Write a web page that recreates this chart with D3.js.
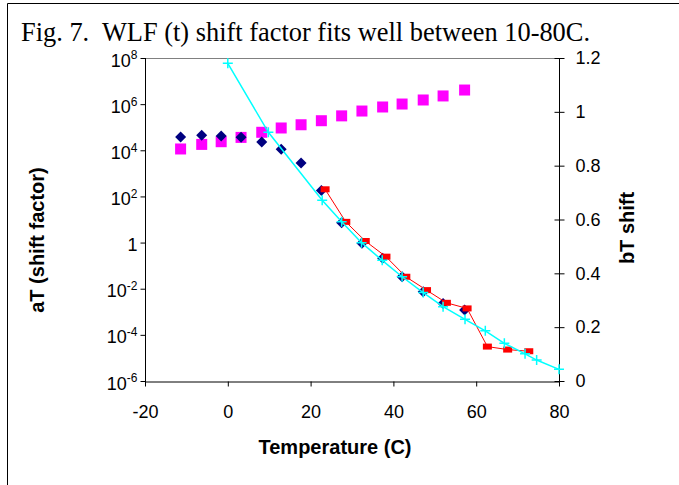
<!DOCTYPE html>
<html>
<head>
<meta charset="utf-8">
<script src="https://cdn.jsdelivr.net/npm/d3@7"></script>
<style>
  body { margin: 0; background: #fff; }
  svg { display: block; }
  text { font-family: "Liberation Sans", Arial, sans-serif; }
</style>
</head>
<body>
<svg id="chart" width="679" height="485"></svg>
<script>
// temperatures (C) shared by the aT data (diamonds) and bT shift (squares)
const dataTemps = [-11.4, -6.3, -1.6, 3.2, 8.2, 12.9, 17.7, 22.6, 27.5, 32.4, 37.4, 42.1, 47.2, 52.0, 57.2];
const aTData = [3.8e4, 4.5e4, 4.2e4, 3.7e4, 2.3e4, 1.1e4, 2.8e3, 180, 7.2, 0.93, 0.21, 0.033, 0.0074, 0.0023, 0.0012];
const bTShift = [0.862, 0.879, 0.889, 0.905, 0.924, 0.940, 0.952, 0.967, 0.985, 1.003, 1.018, 1.029, 1.044, 1.059, 1.081];

// shifted aT (red)
const redTemps = [23.5, 28.5, 33.2, 38.2, 43.0, 48.0, 52.8, 57.8, 62.7, 67.6, 72.7];
const redValues = [204, 7.9, 1.17, 0.245, 0.033, 0.0087, 0.00245, 0.0014, 3.1e-5, 2.3e-5, 1.95e-5];

// WLF fit (cyan)
const wlfTemps = [0, 9.8, 22.8, 27.5, 32.3, 37.3, 42.1, 47.2, 52.0, 57.3, 62.2, 66.8, 71.8, 74.6, 80];
const wlfValues = [5.9e7, 6.0e4, 69, 7.9, 0.99, 0.17, 0.033, 0.0068, 0.00166, 4.7e-4, 1.5e-4, 4.3e-5, 1.5e-5, 8.1e-6, 3.2e-6];

const xTicks = [-20, 0, 20, 40, 60, 80];
const leftTickExps = [-6, -4, -2, 0, 2, 4, 6, 8];
const rightTicks = [0, 0.2, 0.4, 0.6, 0.8, 1, 1.2];

const titleText = 'Fig. 7.  WLF (t) shift factor fits well between 10-80C.';

const svg = d3.select('#chart');
const m = { left: 145, right: 559, top: 58, bottom: 381 };

const x = d3.scaleLinear().domain([-20, 80]).range([m.left, m.right]);
const yL = d3.scaleLog().domain([1e-6, 1e8]).range([m.bottom, m.top]);
const yR = d3.scaleLinear().domain([0, 1.2]).range([m.bottom, m.top]);

// outer frame (left and top edges visible)
svg.append('path')
  .attr('d', `M7.5,485 V3.5 H679`)
  .attr('fill', 'none').attr('stroke', '#000').attr('stroke-width', 1);

svg.append('text')
  .attr('x', 21).attr('y', 41)
  .style('font-family', '"Liberation Serif", "Times New Roman", serif')
  .style('font-size', '26.4px')
  .attr('xml:space', 'preserve')
  .text(titleText);

// plot area top border
svg.append('line')
  .attr('x1', m.left).attr('x2', m.right).attr('y1', m.top + 0.5).attr('y2', m.top + 0.5)
  .attr('stroke', '#808080');

// bottom axis
const gx = svg.append('g')
  .attr('transform', `translate(0,${m.bottom + 0.5})`)
  .call(d3.axisBottom(x).tickValues(xTicks).tickSize(5).tickFormat(d => String(d)));
gx.selectAll('.tick text').attr('y', 36).attr('dy', 0);

// left axis
const gl = svg.append('g')
  .attr('transform', `translate(${m.left + 0.5},0)`)
  .call(d3.axisLeft(yL).tickValues(leftTickExps.map(e => Math.pow(10, e))).tickSize(5).tickPadding(3).tickFormat(() => ''));

gl.selectAll('.tick text').each(function (d) {
  const e = Math.round(Math.log10(d));
  const t = d3.select(this).attr('dy', '0.45em');
  if (e === 0) {
    t.text('1');
  } else {
    t.append('tspan').text('10');
    t.append('tspan').attr('dy', '-0.6em').style('font-size', '12px').text(String(e));
  }
});

// right axis (crossing ticks)
const gr = svg.append('g')
  .attr('transform', `translate(${m.right + 0.5},0)`)
  .call(d3.axisRight(yR).tickValues(rightTicks).tickSizeInner(5).tickSizeOuter(0).tickPadding(11)
    .tickFormat(d => d3.format('~g')(d)));
gr.selectAll('.tick line').attr('x1', -5);

[gx, gl, gr].forEach(g => {
  g.selectAll('.domain').attr('stroke', '#000');
  g.selectAll('.tick line').attr('stroke', '#000');
  g.selectAll('.tick text').style('font-size', '18px').attr('fill', '#000')
    .style('font-family', '"Liberation Sans", Arial, sans-serif');
});
gx.select('.domain').attr('d', `M${m.left},0.5 H${m.right + 0.5}`);
gl.select('.domain').attr('d', `M0,${m.top} V${m.bottom + 4}`);
gr.select('.domain').attr('d', `M0,${m.top} V${m.bottom + 4}`);

// axis titles
svg.append('text')
  .attr('x', 335).attr('y', 454).attr('text-anchor', 'middle')
  .style('font-size', '20px').style('font-weight', 'bold')
  .text('Temperature (C)');

svg.append('text')
  .attr('transform', 'translate(44,240) rotate(-90)').attr('text-anchor', 'middle')
  .style('font-size', '20px').style('font-weight', 'bold')
  .text('aT (shift factor)');

svg.append('text')
  .attr('transform', 'translate(634,228) rotate(-90)').attr('text-anchor', 'middle')
  .style('font-size', '20px').style('font-weight', 'bold')
  .text('bT shift');

// bT shift squares (magenta, right axis)
svg.append('g').selectAll('rect')
  .data(dataTemps.map((t, i) => [t, bTShift[i]]))
  .join('rect')
  .attr('x', d => x(d[0]) - 5.5).attr('y', d => yR(d[1]) - 5.5)
  .attr('width', 11).attr('height', 11)
  .attr('fill', '#ff00ff');

// aT diamonds (navy)
svg.append('g').selectAll('path')
  .data(dataTemps.map((t, i) => [t, aTData[i]]))
  .join('path')
  .attr('transform', d => `translate(${x(d[0])},${yL(d[1])})`)
  .attr('d', 'M0,-5.5 L5.5,0 L0,5.5 L-5.5,0 Z')
  .attr('fill', '#000080');

// red shifted series
const redPts = redTemps.map((t, i) => [t, redValues[i]]);
const line = d3.line().x(d => x(d[0])).y(d => yL(d[1]));
svg.append('path')
  .attr('d', line(redPts))
  .attr('fill', 'none').attr('stroke', '#ff0000').attr('stroke-width', 1);
svg.append('g').selectAll('rect')
  .data(redPts)
  .join('rect')
  .attr('x', d => x(d[0]) - 4.5).attr('y', d => yL(d[1]) - 3)
  .attr('width', 9).attr('height', 6)
  .attr('fill', '#ff0000');

// WLF fit (cyan)
const wlfPts = wlfTemps.map((t, i) => [t, wlfValues[i]]);
svg.append('path')
  .attr('d', line(wlfPts))
  .attr('fill', 'none').attr('stroke', '#00ffff').attr('stroke-width', 1.5);
svg.append('g').selectAll('path')
  .data(wlfPts)
  .join('path')
  .attr('transform', d => `translate(${x(d[0])},${yL(d[1])})`)
  .attr('d', 'M-5,0 H5 M0,-5 V5')
  .attr('stroke', '#00ffff').attr('stroke-width', 1.5);
</script>
</body>
</html>
